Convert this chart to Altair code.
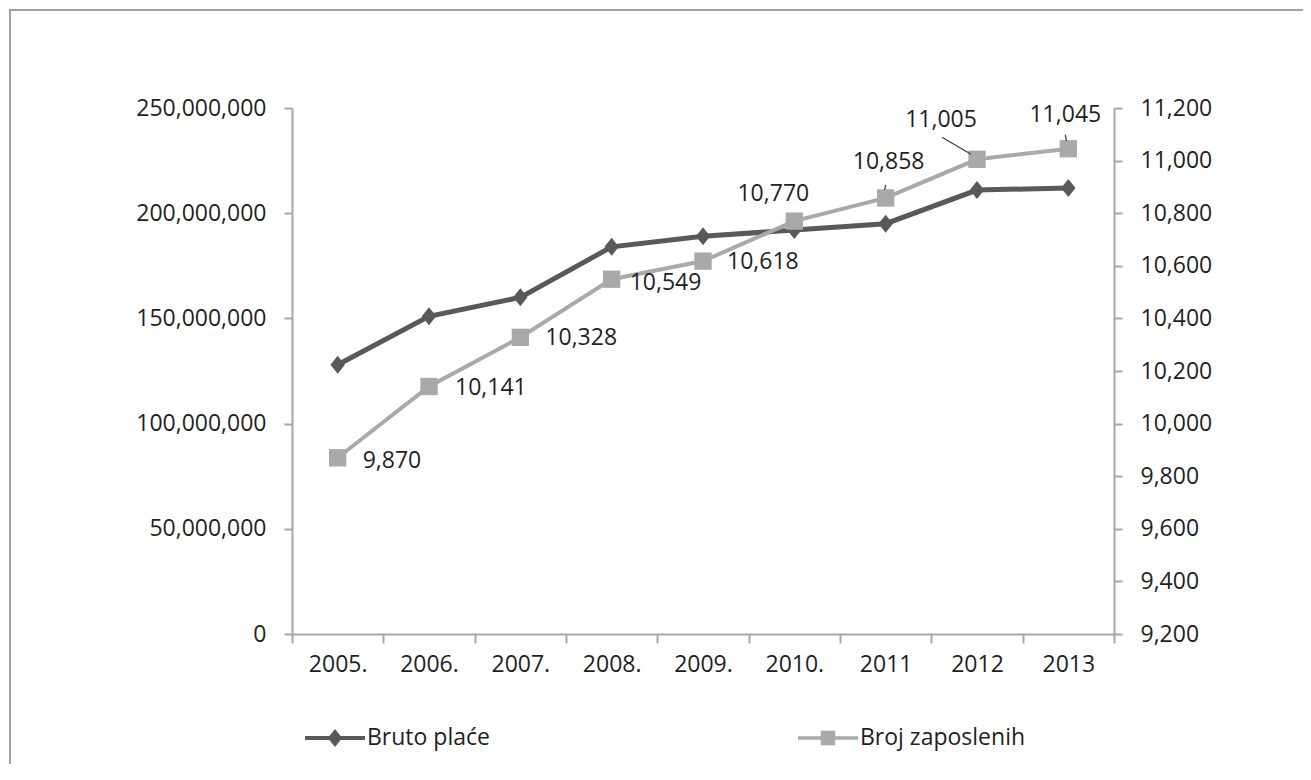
import altair as alt
import pandas as pd

years = ["2005.", "2006.", "2007.", "2008.", "2009.", "2010.", "2011", "2012", "2013"]
bruto_place = [128e6, 151e6, 160e6, 184e6, 189e6, 192e6, 195e6, 211e6, 212e6]
broj_zaposlenih = [9870, 10141, 10328, 10549, 10618, 10770, 10858, 11005, 11045]
series_names = ["Bruto plaće", "Broj zaposlenih"]
left_ticks = [0, 50000000, 100000000, 150000000, 200000000, 250000000]
right_ticks = [9200, 9400, 9600, 9800, 10000, 10200, 10400, 10600, 10800, 11000, 11200]

DARK = "#595959"
LIGHT = "#a9a9a9"
AXIS = "#a6a6a6"
TXT = "#1f1f1f"
FONT = "Open Sans"

df = pd.DataFrame({"year": years, "bruto": bruto_place, "emp": broj_zaposlenih})
legend_df = pd.DataFrame({"series": series_names})

legend_paths = [
    "M-1,-0.07H1V0.07H-1Z M0,-0.3L0.24,0L0,0.3L-0.24,0Z",
    "M-1,-0.06H1V0.06H-1Z M-0.24,-0.24H0.24V0.24H-0.24Z",
]

legend = alt.Legend(
    title=None, orient="none", legendX=13, legendY=600, direction="horizontal",
    columns=2, columnPadding=308, symbolSize=3600, labelFont=FONT, labelFontSize=23,
    labelColor=TXT, labelOffset=2, labelLimit=400, symbolStrokeWidth=0, symbolOpacity=1,
)
color_scale = alt.Scale(domain=series_names, range=[DARK, LIGHT])
shape_scale = alt.Scale(domain=series_names, range=legend_paths)

x_enc = alt.X("year:N", sort=years,
              scale=alt.Scale(paddingInner=0, paddingOuter=0),
              axis=alt.Axis(title=None, labelAngle=0, tickBand="extent", labelPadding=10,
                            domainColor=AXIS, tickColor=AXIS, domainWidth=2, tickWidth=2,
                            tickSize=9, labelFont=FONT, labelFontSize=23, labelColor=TXT))

base = alt.Chart(df)

fmt = "format(datum.value, ',')"
y_left = alt.Y("bruto:Q", scale=alt.Scale(domain=[0, 250000000], nice=False),
               axis=alt.Axis(title=None, values=left_ticks, labelExpr=fmt, grid=False,
                             domainColor=AXIS, tickColor=AXIS, domainWidth=2, tickWidth=2,
                             tickSize=8, labelPadding=18, labelFont=FONT, labelFontSize=23,
                             labelColor=TXT))
y_right = alt.Y("emp:Q", scale=alt.Scale(domain=[9200, 11200], nice=False),
                axis=alt.Axis(title=None, orient="right", values=right_ticks, labelExpr=fmt,
                              grid=False, domainColor=AXIS, tickColor=AXIS, domainWidth=2,
                              tickWidth=2, tickSize=8, labelPadding=18, labelFont=FONT,
                              labelFontSize=23, labelColor=TXT))

col = alt.Color("series:N", scale=color_scale, legend=legend)

left_base = base.transform_calculate(series="'%s'" % series_names[0])
left_line = left_base.mark_line(strokeWidth=5).encode(x=x_enc, y=y_left, color=col)
left_pts = left_base.mark_point(filled=True, opacity=1, size=324,
                                shape="M0,-1L0.8,0L0,1L-0.8,0Z").encode(
    x=x_enc, y=y_left, color=col)
legend_carrier = alt.Chart(legend_df).mark_point(filled=True, opacity=0, size=3600).encode(
    color=col, shape=alt.Shape("series:N", scale=shape_scale, legend=legend))
left = alt.layer(left_line, left_pts, legend_carrier)

right_base = base.transform_calculate(series="'%s'" % series_names[1])
right_line = right_base.mark_line(strokeWidth=4).encode(x=x_enc, y=y_right, color=col)
right_pts = right_base.mark_point(filled=True, opacity=1, size=300, shape="square").encode(
    x=x_enc, y=y_right, color=col)

# label placements (style only): year -> (dx, dy, align)
placements = {
    "2005.": (25, 3, "left"), "2006.": (26, 1, "left"), "2007.": (25, 1, "left"),
    "2008.": (18, 4, "left"), "2009.": (24, 1, "left"),
    "2010.": (-21, -27, "center"), "2011": (3, -36, "center"),
    "2012": (-36, -39, "center"), "2013": (-3, -34, "center"),
}
label_layers = []
for yr, (dx, dy, al) in placements.items():
    label_layers.append(
        base.transform_filter(alt.datum.year == yr).mark_text(
            dx=dx, dy=dy, align=al, baseline="middle", font=FONT, fontSize=23, color=TXT
        ).encode(x=x_enc, y=y_right, text=alt.Text("emp:Q", format=","))
    )

# leader lines (style offsets)
leaders = {
    "2011": (0, -13, -1, -8),
    "2012": (-35, -22, -6, -5),
    "2013": (-3, -14, -2, -8),
}
leader_layers = []
for yr, (x1, y1, x2, y2) in leaders.items():
    leader_layers.append(
        base.transform_filter(alt.datum.year == yr).mark_rule(
            color="#404040", strokeWidth=1.3, xOffset=x1, yOffset=y1, x2Offset=x2, y2Offset=y2
        ).encode(x=x_enc, x2=alt.X2("year"), y=y_right, y2=alt.Y2("emp"))
    )

right = alt.layer(right_line, right_pts, *label_layers, *leader_layers)

border = alt.Chart(pd.DataFrame({"k": [0]})).mark_rect(
    fillOpacity=0, stroke="#a0a0a0", strokeWidth=2
).encode(x=alt.value(-282), x2=alt.value(1300), y=alt.value(-98), y2=alt.value(900))

chart = alt.layer(border, left, right).resolve_scale(y="independent").properties(
    width=822, height=526,
    autosize=alt.AutoSizeParams(type="none"),
    padding={"left": 284, "top": 100, "right": 189, "bottom": 130},
    background="white",
).configure_view(stroke=None)

chart.save("out.html", embed_options={"renderer": "svg", "actions": False})
